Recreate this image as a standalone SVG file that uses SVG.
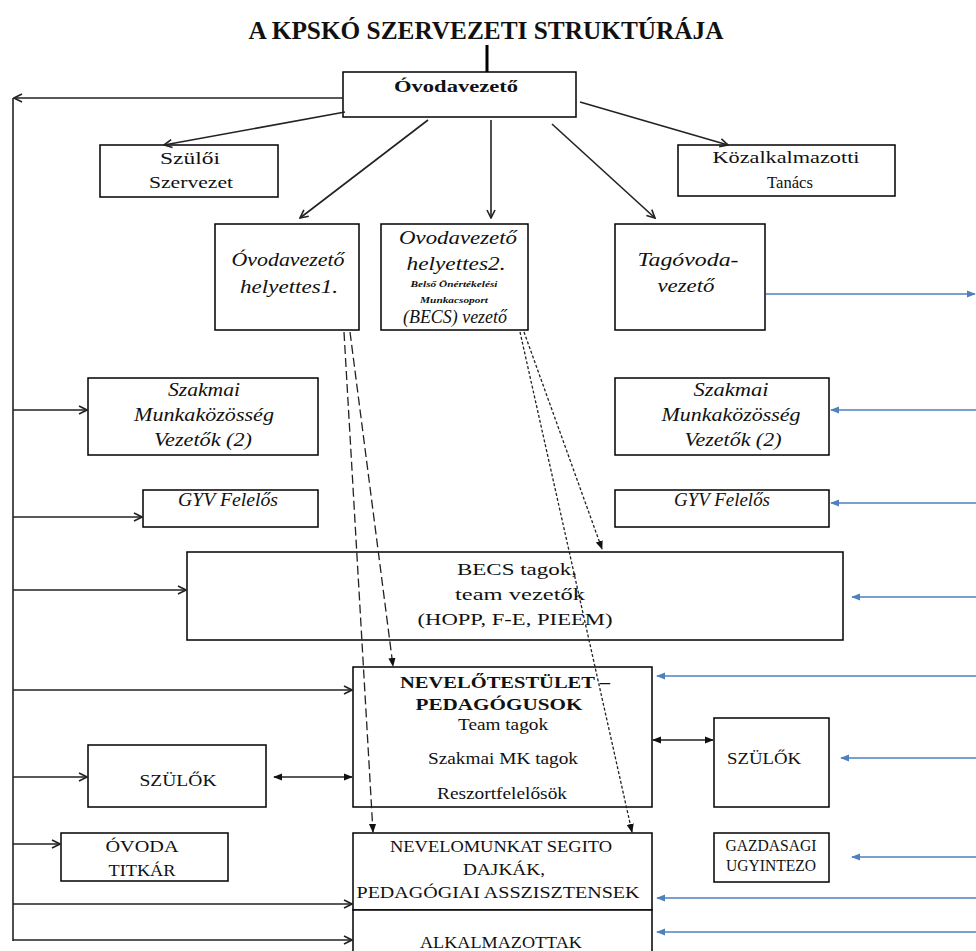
<svg xmlns="http://www.w3.org/2000/svg" width="976" height="951" viewBox="0 0 976 951">
<defs>
<style>
.box{fill:#fff;stroke:#000;stroke-width:1.5}
.ln{fill:none;stroke:#222;stroke-width:1.6}
.bl{fill:none;stroke:#4f81bd;stroke-width:1.6}
.dash{fill:none;stroke:#222;stroke-width:1.3;stroke-dasharray:9 4}
.dot{fill:none;stroke:#222;stroke-width:1.3;stroke-dasharray:3 2}
text{font-family:"Liberation Serif","Times New Roman",serif;fill:#111;text-anchor:middle}
.t{font-size:17px}
.i{font-size:18px;font-style:italic}
.b{font-weight:bold}
.s{font-size:9px;font-style:italic;font-weight:bold}
</style>
<marker id="open" viewBox="0 0 10 10" refX="9" refY="5" markerWidth="10" markerHeight="10" markerUnits="userSpaceOnUse" orient="auto">
<path d="M1,1 L9,5 L1,9" fill="none" stroke="#222" stroke-width="1.6"/>
</marker>
<marker id="fill" viewBox="0 0 10 10" refX="9" refY="5" markerWidth="9" markerHeight="9" markerUnits="userSpaceOnUse" orient="auto-start-reverse">
<path d="M0,1 L10,5 L0,9 Z" fill="#111"/>
</marker>
<marker id="blue" viewBox="0 0 10 10" refX="9" refY="5" markerWidth="9" markerHeight="9" markerUnits="userSpaceOnUse" orient="auto">
<path d="M0,1 L10,5 L0,9 Z" fill="#4f81bd"/>
</marker>
</defs>
<rect width="976" height="951" fill="#fff"/>

<text x="486" y="39" class="b" font-size="26" textLength="475" lengthAdjust="spacingAndGlyphs">A KPSKÓ SZERVEZETI STRUKTÚRÁJA</text>

<g id="ovodavezeto">
<rect class="box" x="343" y="72" width="233" height="45"/>
<text x="456" y="92" class="t b" textLength="124" lengthAdjust="spacingAndGlyphs">Óvodavezető</text>
</g>
<g id="szuloi-szervezet">
<rect class="box" x="100" y="145" width="178" height="52"/>
<text x="190" y="164" class="t" textLength="60" lengthAdjust="spacingAndGlyphs">Szülői</text>
<text x="191" y="188" class="t" textLength="84" lengthAdjust="spacingAndGlyphs">Szervezet</text>
</g>
<g id="kozalkalmazotti">
<rect class="box" x="678" y="145" width="217" height="51"/>
<text x="786" y="163" class="t" textLength="147" lengthAdjust="spacingAndGlyphs">Közalkalmazotti</text>
<text x="790" y="188" class="t" textLength="46" lengthAdjust="spacingAndGlyphs">Tanács</text>
</g>
<g id="helyettes1">
<rect class="box" x="215" y="224" width="144" height="106"/>
<text x="288" y="266" class="i" textLength="113" lengthAdjust="spacingAndGlyphs">Óvodavezető</text>
<text x="289" y="293" class="i" textLength="98" lengthAdjust="spacingAndGlyphs">helyettes1.</text>
</g>
<g id="helyettes2">
<rect class="box" x="381" y="224" width="147" height="106"/>
<text x="458" y="244" class="i" textLength="118" lengthAdjust="spacingAndGlyphs">Ovodavezető</text>
<text x="456" y="270" class="i" textLength="99" lengthAdjust="spacingAndGlyphs">helyettes2.</text>
<text x="454" y="287" class="s" textLength="87" lengthAdjust="spacingAndGlyphs">Belső Önértékelési</text>
<text x="454" y="303" class="s" textLength="68" lengthAdjust="spacingAndGlyphs">Munkacsoport</text>
<text x="455" y="323" class="i" font-size="16" textLength="104" lengthAdjust="spacingAndGlyphs">(BECS) vezető</text>
</g>
<g id="tagovoda">
<rect class="box" x="615" y="224" width="150" height="106"/>
<text x="688" y="266" class="i" textLength="101" lengthAdjust="spacingAndGlyphs">Tagóvoda-</text>
<text x="686" y="292" class="i" font-size="16" textLength="57" lengthAdjust="spacingAndGlyphs">vezető</text>
</g>
<g id="szmk-bal">
<rect class="box" x="88" y="378" width="230" height="77"/>
<text x="204" y="396" class="i" textLength="72" lengthAdjust="spacingAndGlyphs">Szakmai</text>
<text x="204" y="421" class="i" textLength="140" lengthAdjust="spacingAndGlyphs">Munkaközösség</text>
<text x="203" y="446" class="i" textLength="98" lengthAdjust="spacingAndGlyphs">Vezetők (2)</text>
</g>
<g id="szmk-jobb">
<rect class="box" x="615" y="378" width="214" height="77"/>
<text x="731" y="396" class="i" textLength="75" lengthAdjust="spacingAndGlyphs">Szakmai</text>
<text x="731" y="421" class="i" textLength="139" lengthAdjust="spacingAndGlyphs">Munkaközösség</text>
<text x="733" y="446" class="i" textLength="97" lengthAdjust="spacingAndGlyphs">Vezetők (2)</text>
</g>
<g id="gyv-bal">
<rect class="box" x="143" y="490" width="175" height="37"/>
<text x="228" y="506" class="i" font-size="15" textLength="100" lengthAdjust="spacingAndGlyphs">GYV Felelős</text>
</g>
<g id="gyv-jobb">
<rect class="box" x="615" y="490" width="214" height="37"/>
<text x="722" y="506" class="i" font-size="15" textLength="96" lengthAdjust="spacingAndGlyphs">GYV Felelős</text>
</g>
<g id="becs">
<rect class="box" x="187" y="552" width="656" height="88"/>
<text x="517" y="575" class="t" textLength="120" lengthAdjust="spacingAndGlyphs">BECS tagok,</text>
<text x="520" y="600" class="t" textLength="130" lengthAdjust="spacingAndGlyphs">team vezetők</text>
<text x="515" y="625" class="t" textLength="195" lengthAdjust="spacingAndGlyphs">(HOPP, F-E, PIEEM)</text>
</g>
<g id="nevelotestulet">
<rect class="box" x="353" y="667" width="299" height="140"/>
<text x="505" y="688" class="t b" textLength="210" lengthAdjust="spacingAndGlyphs">NEVELŐTESTÜLET –</text>
<text x="499" y="710" class="t b" textLength="167" lengthAdjust="spacingAndGlyphs">PEDAGÓGUSOK</text>
<text x="503" y="730" class="t" font-size="16" textLength="90" lengthAdjust="spacingAndGlyphs">Team  tagok</text>
<text x="503" y="764" class="t" font-size="16" textLength="150" lengthAdjust="spacingAndGlyphs">Szakmai  MK tagok</text>
<text x="502" y="799" class="t" font-size="16" textLength="130" lengthAdjust="spacingAndGlyphs">Reszortfelelősök</text>
</g>
<g id="szulok-bal">
<rect class="box" x="88" y="745" width="178" height="62"/>
<text x="178" y="786" class="t" textLength="77" lengthAdjust="spacingAndGlyphs">SZÜLŐK</text>
</g>
<g id="szulok-jobb">
<rect class="box" x="714" y="718" width="115" height="89"/>
<text x="764" y="764" class="t" textLength="74" lengthAdjust="spacingAndGlyphs">SZÜLŐK</text>
</g>
<g id="ovoda-titkar">
<rect class="box" x="61" y="833" width="167" height="48"/>
<text x="142" y="852" class="t" font-size="15" textLength="73" lengthAdjust="spacingAndGlyphs">ÓVODA</text>
<text x="142" y="876" class="t" font-size="15" textLength="67" lengthAdjust="spacingAndGlyphs">TITKÁR</text>
</g>
<g id="nevelomunkat-segito">
<rect class="box" x="353" y="833" width="299" height="77"/>
<text x="501" y="852" class="t" font-size="15" textLength="222" lengthAdjust="spacingAndGlyphs">NEVELOMUNKAT SEGITO</text>
<text x="504" y="875" class="t" font-size="16" textLength="82" lengthAdjust="spacingAndGlyphs">DAJKÁK,</text>
<text x="498" y="898" class="t" font-size="16" textLength="283" lengthAdjust="spacingAndGlyphs">PEDAGÓGIAI ASSZISZTENSEK</text>
</g>
<g id="gazdasagi">
<rect class="box" x="714" y="833" width="115" height="49"/>
<text x="771" y="851" class="t" font-size="15" textLength="91" lengthAdjust="spacingAndGlyphs">GAZDASAGI</text>
<text x="771" y="871" class="t" font-size="15" textLength="90" lengthAdjust="spacingAndGlyphs">UGYINTEZO</text>
</g>
<g id="alkalmazottak">
<rect class="box" x="353" y="910" width="299" height="50"/>
<text x="501" y="948" class="t" font-size="16" textLength="162" lengthAdjust="spacingAndGlyphs">ALKALMAZOTTAK</text>
</g>

<g id="connectors">
<line x1="487" y1="45" x2="487" y2="72" stroke="#000" stroke-width="3"/>
<path class="ln" d="M343,98 H14" marker-end="url(#open)"/>
<path class="ln" d="M13,98 V941"/>
<path class="ln" d="M345,112 L164,145" marker-end="url(#open)"/>
<path class="ln" d="M580,102 L728,145" marker-end="url(#open)"/>
<path class="ln" d="M428,120 L300,218" marker-end="url(#open)"/>
<path class="ln" d="M491,120 V218" marker-end="url(#open)"/>
<path class="ln" d="M552,124 L655,218" marker-end="url(#open)"/>
<path class="ln" d="M13,410 H87" marker-end="url(#open)"/>
<path class="ln" d="M13,517 H142" marker-end="url(#open)"/>
<path class="ln" d="M13,590 H186" marker-end="url(#open)"/>
<path class="ln" d="M13,690 H352" marker-end="url(#open)"/>
<path class="ln" d="M13,777 H87" marker-end="url(#open)"/>
<path class="ln" d="M13,844 H60" marker-end="url(#open)"/>
<path class="ln" d="M13,904 H352" marker-end="url(#open)"/>
<path class="ln" d="M13,940 H352" marker-end="url(#open)"/>
<path class="ln" d="M274,777 H352" marker-start="url(#fill)" marker-end="url(#fill)"/>
<path class="ln" d="M653,740 H713" marker-start="url(#fill)" marker-end="url(#fill)"/>
<path class="dash" d="M344,332 L373,832" marker-end="url(#fill)"/>
<path class="dash" d="M350,332 L393,666" marker-end="url(#fill)"/>
<path class="dot" d="M524,332 L602,549" marker-end="url(#fill)"/>
<path class="dot" d="M520,332 L632,832" marker-end="url(#fill)"/>
<path class="bl" d="M766,294 H975" marker-end="url(#blue)"/>
<path class="bl" d="M976,410 H831" marker-end="url(#blue)"/>
<path class="bl" d="M976,503 H831" marker-end="url(#blue)"/>
<path class="bl" d="M976,597 H852" marker-end="url(#blue)"/>
<path class="bl" d="M976,676 H657" marker-end="url(#blue)"/>
<path class="bl" d="M976,758 H841" marker-end="url(#blue)"/>
<path class="bl" d="M976,857 H852" marker-end="url(#blue)"/>
<path class="bl" d="M976,898 H657" marker-end="url(#blue)"/>
<path class="bl" d="M976,932 H657" marker-end="url(#blue)"/>
</g>
</svg>
